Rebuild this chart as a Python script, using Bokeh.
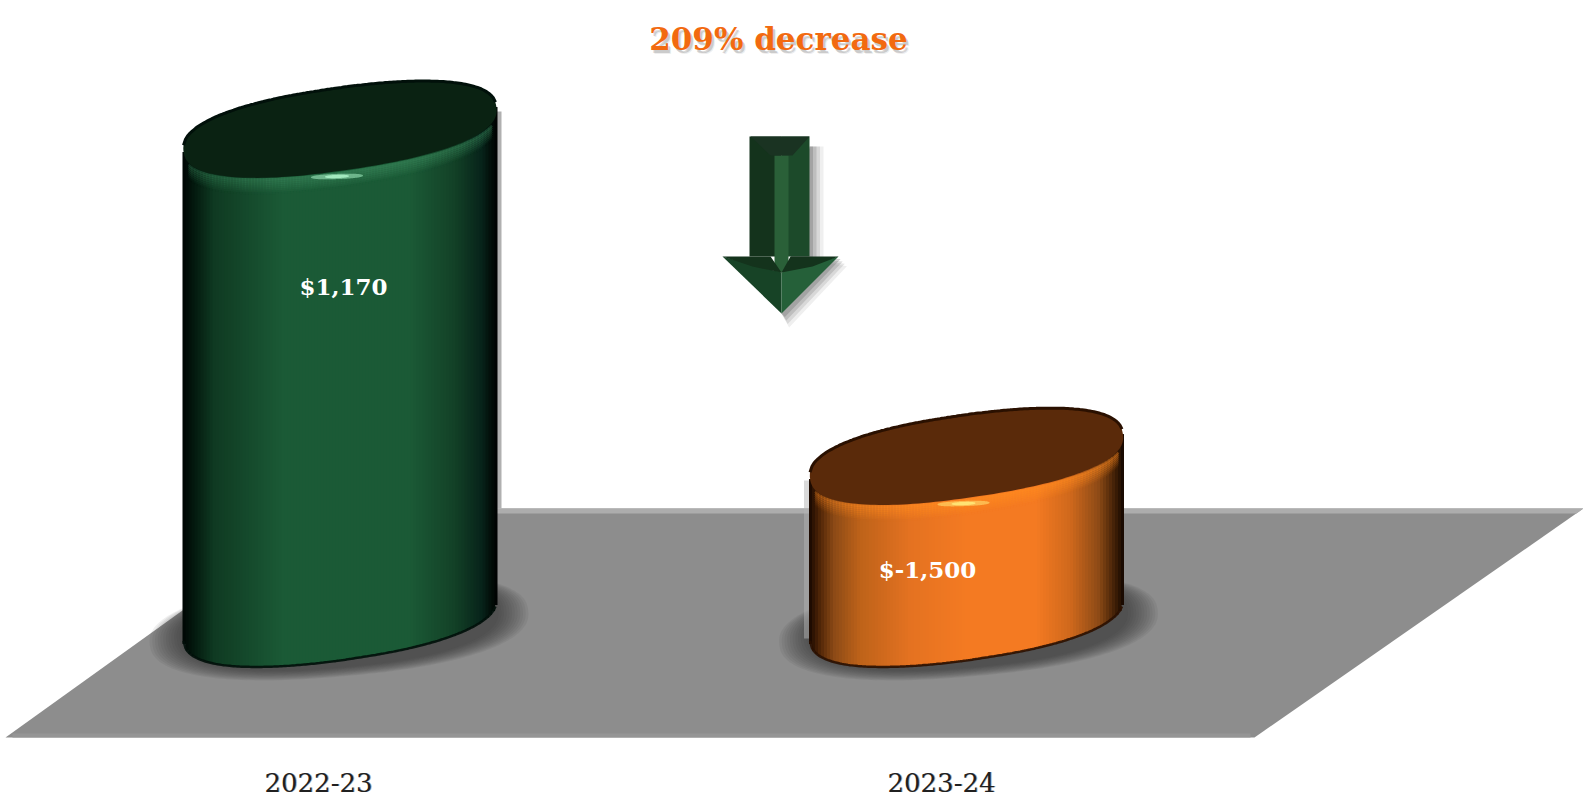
import numpy as np
from bokeh.plotting import figure
from bokeh.embed import file_html
from bokeh.resources import INLINE
from bokeh.core.properties import value

categories = ["2022-23", "2023-24"]
values = [1170, -1500]
value_labels = ["$1,170", "$-1,500"]
change_label = "209% decrease"

W, H = 1583, 798
p = figure(width=W, height=H, x_range=(0, W), y_range=(H, 0),
           output_backend="svg", toolbar_location=None, min_border=0,
           outline_line_color=None, background_fill_color="white")
p.axis.visible = False
p.grid.visible = False

# ---- scales (picture space)
BASE_Y = 618
A, B, TH = 158, 41, np.radians(8.2)
def col_x(i): return 339.5 + 626.5 * i
def col_top(v): return BASE_Y - (345.7 + 0.1225 * v)

def ell(cx, cy, a=A, b=B, th=TH, n=180, power=2.35):
    t = np.linspace(0, 2 * np.pi, n)
    c, s = np.cos(t), np.sin(t)
    u = a * np.sign(c) * np.abs(c) ** (2 / power)
    w = b * np.sign(s) * np.abs(s) ** (2 / power)
    x = cx + u * np.cos(th) + w * np.sin(th)
    y = cy - u * np.sin(th) + w * np.cos(th)
    return x, y

def arcs(cx, cy, xs):
    x, y = ell(cx, cy, n=1440)
    lo, hi = np.zeros_like(xs, dtype=float), np.zeros_like(xs, dtype=float)
    for k, xv in enumerate(xs):
        idx = np.argsort(np.abs(x - xv))[:16]
        lo[k], hi[k] = y[idx].max(), y[idx].min()
    return lo, hi

def hexc(c): return "#%02x%02x%02x" % tuple(int(round(v)) for v in c)
def rgb(h): return [int(h[i:i + 2], 16) for i in (1, 3, 5)]
def ramp(stops, t):
    ts = [s[0] for s in stops]
    cs = np.array([rgb(s[1]) for s in stops], float)
    return hexc([np.interp(t, ts, cs[:, j]) for j in range(3)])

GREEN = [(0, "#000504"), (.03, "#02150c"), (.10, "#0f3a22"), (.32, "#1b5a36"), (.72, "#1b5a36"),
         (.86, "#134227"), (.95, "#07231a"), (.985, "#010a06"), (1, "#000000")]
ORANGE = [(0, "#160700"), (.03, "#4a2206"), (.08, "#8c4a16"), (.16, "#bd6219"), (.32, "#e47221"), (.50, "#f47a22"),
          (.72, "#f47a22"), (.83, "#cf681c"), (.92, "#8c4a16"), (.975, "#3a1c05"), (1, "#120600")]
STYLE = [
    dict(ramp=GREEN, top="#0a2212", edge="#01100a", rim="#357f55", spec="#a8f0c4", halo_side=1),
    dict(ramp=ORANGE, top="#5a2a0a", edge="#2a1000", rim="#ff8a20", spec="#ffe878", halo_side=-1),
]

# ---- floor
p.patch([5, 1254, 1583, 324], [737, 737, 508, 508], fill_color="#8d8d8d", line_color=None)
p.patch([324, 1583, 1576, 317], [508, 508, 513, 513], fill_color="#adadad", line_color=None)
p.quad(left=[12], right=[1250], top=[733], bottom=[737], fill_color="#959595", line_color=None)

# ---- soft shadows on the floor
for i in range(2):
    cx = col_x(i) - 1 + (3 if i else 0)
    for k in range(12):
        f = k / 11
        x, y = ell(cx, 627 - 3 * f, a=190 - 30 * f, b=49 - 6 * f, th=np.radians(5))
        p.patch(x, y, fill_color="#333333", fill_alpha=0.08, line_color=None)

# ---- columns
for i, v in enumerate(values):
    st = STYLE[i]
    cx, ty = col_x(i), col_top(v)
    xl, xr = cx - 157.5, cx + 157.5
    if st["halo_side"] > 0:
        p.quad(left=[xr - 1], right=[xr + 4], top=[ty - 18], bottom=[BASE_Y - 110], fill_color="#b0b0b0", line_color=None)
    else:
        p.quad(left=[xl - 5], right=[xl + 1], top=[ty + 24], bottom=[BASE_Y + 20], fill_color="#b4b4b4", fill_alpha=.5, line_color=None)
    edges = np.arange(xl, xr, 3.0)
    mids = edges + 1.5
    bot, _ = arcs(cx, BASE_Y, mids)
    tilt = ty - (mids - cx) * np.tan(TH)
    cols = [ramp(st["ramp"], (m - xl) / (xr - xl)) for m in mids]
    p.quad(left=edges, right=np.minimum(edges + 3.6, xr), top=tilt, bottom=bot, fill_color=cols, line_color=None)
    # lower outline
    bx = np.arange(xl + 1, xr, 2.0)
    lo, _ = arcs(cx, BASE_Y, bx)
    p.line(bx, lo, line_color=st["edge"], line_width=2.5, line_alpha=.9)
    # rim light under the lid
    rx = np.arange(xl + 6, xr - 3, 3.0)
    fr, _ = arcs(cx, ty, rx)
    xx0, yy0, xx1, yy1, cc, aa = [], [], [], [], [], []
    for off in np.arange(1.5, 16, 2.0):
        for k in range(len(rx) - 1):
            g = np.exp(-((rx[k] - (cx + 10)) / 170) ** 2)
            xx0.append(rx[k]); xx1.append(rx[k + 1] + .5)
            yy0.append(fr[k] + off); yy1.append(fr[k + 1] + off)
            cc.append(st["rim"])
            aa.append(float(.8 * g * (1 - off / 16)))
    p.segment(xx0, yy0, xx1, yy1, line_color=cc, line_alpha=aa, line_width=2.4)
    # lid
    x, y = ell(cx, ty)
    p.patch(x, y, fill_color=st["top"], line_color=None)
    tx_ = np.arange(xl + 1, xr, 2.0)
    _, up = arcs(cx, ty, tx_)
    p.line(tx_, up, line_color=st["edge"], line_width=3)
    # specular glint
    sx, sy = ell(cx - 3, ty + 47, a=26, b=2.6, th=np.radians(2))
    p.patch(sx, sy, fill_color=st["spec"], fill_alpha=.55, line_color=None)
    sx, sy = ell(cx - 3, ty + 47, a=12, b=1.6, th=np.radians(2))
    p.patch(sx, sy, fill_color=st["spec"], fill_alpha=.9, line_color=None)

# ---- value labels
lab_x = [343, 927]
lab_y = [286, 569]
p.text(lab_x, lab_y, text=value_labels, text_font=value("DejaVu Serif"), text_font_style="bold",
       text_font_size="23px", text_color="white", text_align="center", text_baseline="middle")

# ---- arrow
for k, a in enumerate([.10, .16, .22, .30]):
    d = 14 - 3.5 * k
    p.patch([809, 809 + d, 809 + d, 838 + d * .6, 783 + d * .4, 781],
            [146, 146, 256 + d * .4, 256 + d * .7, 313 + d, 313], fill_color="#666666", fill_alpha=a, line_color=None)
p.patch([749, 781, 781, 749], [136, 136, 256, 256], fill_color="#14331c", line_color=None)
p.patch([781, 809, 809, 781], [136, 136, 256, 256], fill_color="#1c4a2a", line_color=None)
p.patch([774, 788, 788, 774], [155, 155, 272, 272], fill_color="#2a6038", line_color=None)
p.patch([750, 809, 792, 770], [136, 136, 155, 155], fill_color="#1a3322", line_color=None)
p.patch([722, 781, 781], [256, 313, 272], fill_color="#174326", line_color=None)
p.patch([838, 781, 781], [256, 313, 272], fill_color="#256039", line_color=None)
p.patch([722, 770, 781, 752], [256, 256, 272, 266], fill_color="#14331c", line_color=None)
p.patch([838, 790, 781, 812], [256, 256, 272, 266], fill_color="#14331c", line_color=None)

# ---- title with soft shadow
tx, ty = 778, 38
for dx, dy, a in [(2, 3, .28), (3, 4, .12)]:
    p.text([tx + dx], [ty + dy], text=[change_label], text_font=value("DejaVu Serif"), text_font_style="bold",
           text_font_size="31px", text_color="#777777", text_alpha=a, text_align="center", text_baseline="middle")
p.text([tx], [ty], text=[change_label], text_font=value("DejaVu Serif"), text_font_style="bold",
       text_font_size="31px", text_color="#f26a10", text_align="center", text_baseline="middle")

# ---- category labels
for dx, a in [(1, .35), (0, 1)]:
    p.text([318 + dx, 941 + dx], [782, 782], text=categories, text_font=value("DejaVu Serif"), text_font_size="26px",
           text_color="#202020", text_alpha=a, text_align="center", text_baseline="middle")

open("out.html", "w").write(file_html(p, INLINE))
